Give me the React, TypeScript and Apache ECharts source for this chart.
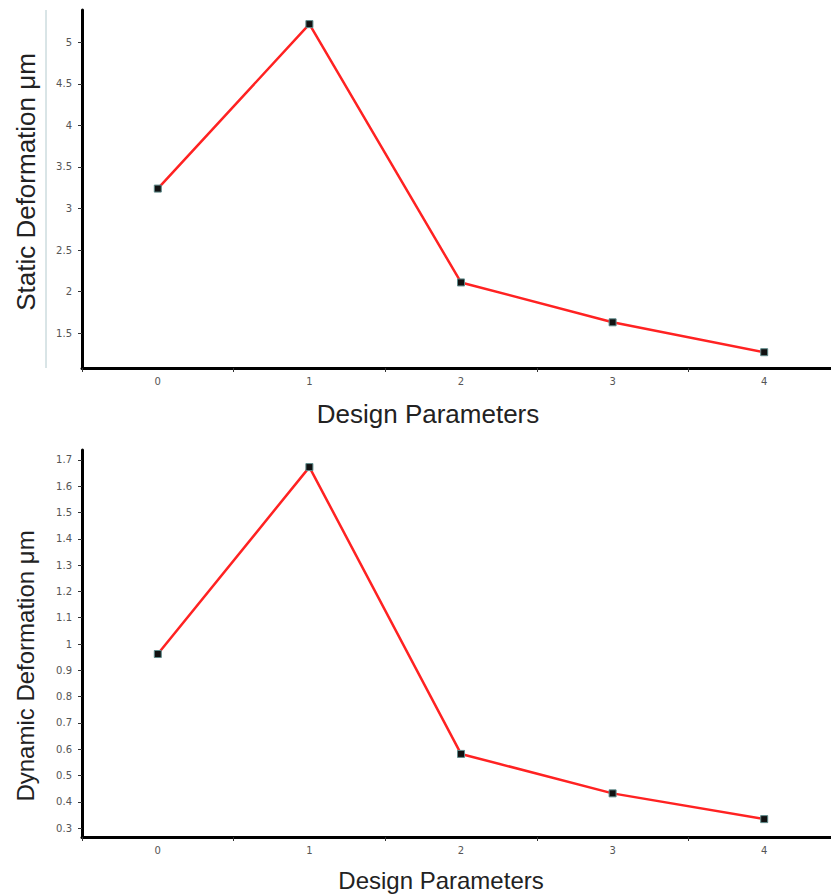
import React, { useEffect, useRef } from "react";
import * as echarts from "echarts";

const designParams = ["0", "1", "2", "3", "4"];
const staticDeformation = [3.24, 5.22, 2.11, 1.63, 1.27];
const dynamicDeformation = [0.962, 1.673, 0.582, 0.432, 0.334];
const staticTicks = [1.5, 2, 2.5, 3, 3.5, 4, 4.5, 5];
const dynamicTicks = [0.3, 0.4, 0.5, 0.6, 0.7, 0.8, 0.9, 1, 1.1, 1.2, 1.3, 1.4, 1.5, 1.6, 1.7];

const FONT = "Liberation Sans, Arial, sans-serif";
const TICK_FONT = "DejaVu Sans, sans-serif";

export default function App() {
  const ref = useRef<HTMLDivElement>(null);

  useEffect(() => {
    if (!ref.current) return;
    const chart = echarts.init(ref.current, null, { renderer: "svg" });

    const xAxisBase = (gridIndex: number) => ({
      type: "category" as const,
      gridIndex,
      data: designParams,
      boundaryGap: true,
      axisLine: { lineStyle: { color: "#000", width: 3 } },
      axisTick: { show: true, length: 4, lineStyle: { color: "#333", width: 1 } },
      axisLabel: { color: "#555", fontSize: 10, fontFamily: TICK_FONT, margin: 8 },
      splitLine: { show: false },
    });

    const yAxisBase = (gridIndex: number, min: number, max: number, ticks: number[]) => ({
      type: "value" as const,
      gridIndex,
      min,
      max,
      axisLine: { show: true, lineStyle: { color: "#000", width: 3 } },
      axisTick: { show: true, length: 4, customValues: ticks, lineStyle: { color: "#333", width: 1 } },
      axisLabel: {
        color: "#555",
        fontSize: 10,
        fontFamily: TICK_FONT,
        margin: 10,
        customValues: ticks,
        formatter: (v: number) => String(parseFloat(v.toFixed(2))),
      },
      splitLine: { show: false },
    });

    const seriesBase = {
      type: "line" as const,
      symbol: "rect",
      symbolSize: 7,
      lineStyle: { color: "#ff2222", width: 2.5 },
      itemStyle: { color: "#111", borderColor: "#5f8c8c", borderWidth: 1 },
    };

    chart.setOption({
      animation: false,
      backgroundColor: "#fff",
      grid: [
        { left: 82, top: 10, width: 758, height: 358, outerBoundsMode: "none" },
        { left: 82, top: 450, width: 758, height: 387, outerBoundsMode: "none" },
      ],
      xAxis: [xAxisBase(0), xAxisBase(1)],
      yAxis: [
        yAxisBase(0, 1.08, 5.39, staticTicks),
        yAxisBase(1, 0.266, 1.738, dynamicTicks),
      ],
      series: [
        { ...seriesBase, xAxisIndex: 0, yAxisIndex: 0, data: staticDeformation },
        { ...seriesBase, xAxisIndex: 1, yAxisIndex: 1, data: dynamicDeformation },
      ],
      graphic: [
        {
          type: "line",
          shape: { x1: 46, y1: 10, x2: 46, y2: 368 },
          style: { stroke: "#b3cace", lineWidth: 1 },
        },
        {
          type: "text",
          x: 26,
          y: 182,
          rotation: Math.PI / 2,
          style: {
            text: "Static Deformation μm",
            font: `26px ${FONT}`,
            fill: "#222",
            align: "center",
            verticalAlign: "middle",
          },
        },
        {
          type: "text",
          x: 428,
          y: 414,
          style: {
            text: "Design Parameters",
            font: `26px ${FONT}`,
            fill: "#222",
            align: "center",
            verticalAlign: "middle",
          },
        },
        {
          type: "text",
          x: 25,
          y: 666,
          rotation: Math.PI / 2,
          style: {
            text: "Dynamic Deformation μm",
            font: `24px ${FONT}`,
            fill: "#222",
            align: "center",
            verticalAlign: "middle",
          },
        },
        {
          type: "text",
          x: 441,
          y: 880,
          style: {
            text: "Design Parameters",
            font: `24px ${FONT}`,
            fill: "#222",
            align: "center",
            verticalAlign: "middle",
          },
        },
      ],
    });

    return () => chart.dispose();
  }, []);

  return (
    <div
      ref={ref}
      style={{ position: "fixed", left: 0, top: 0, width: 831, height: 895, background: "#fff" }}
    />
  );
}
